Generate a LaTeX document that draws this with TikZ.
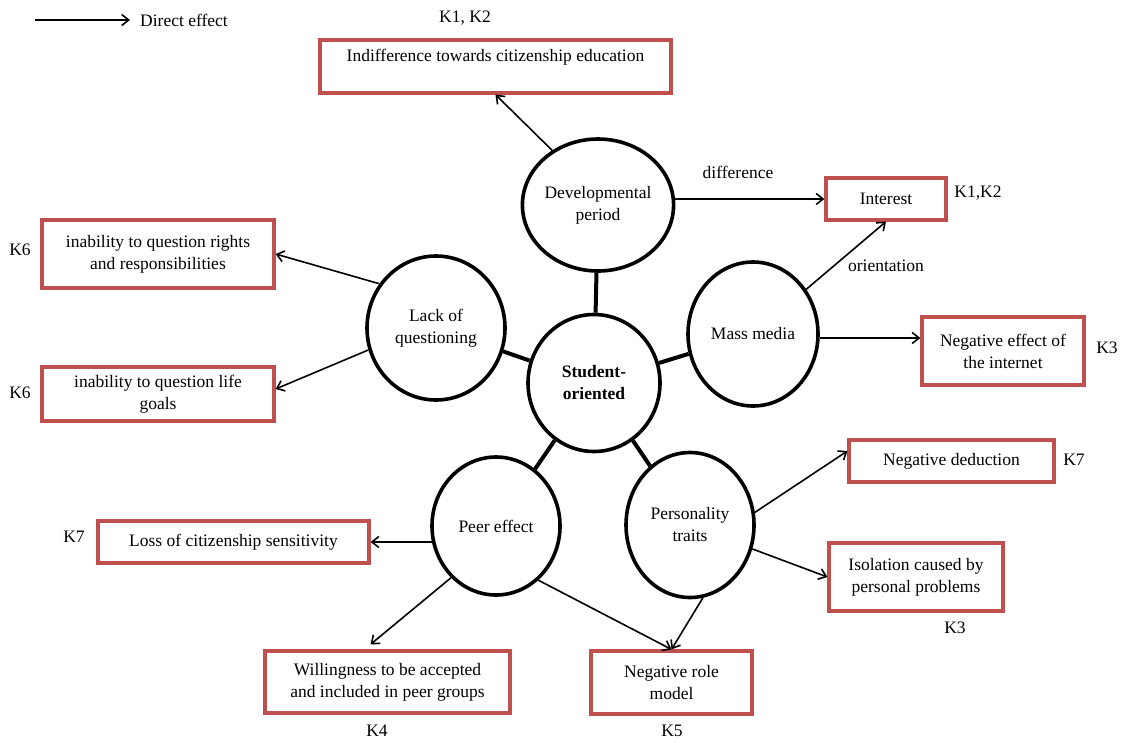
\documentclass[tikz,border=0pt]{standalone}
\usepackage{fontspec}
\setmainfont{Liberation Serif}
\usetikzlibrary{shapes.geometric,arrows.meta}
\definecolor{boxred}{HTML}{C0504D}
\begin{document}
\begin{tikzpicture}[x=1pt,y=-1pt]
\tikzstyle{every node}+=[inner sep=0pt, font=\fontsize{17.5}{22}\selectfont, align=center]
\tikzstyle{factor}=[draw, ellipse, line width=3.6pt]
\tikzstyle{result}=[draw=boxred, line width=3.2pt, rectangle]
\tikzstyle{spoke}=[line width=4pt]
\tikzstyle{effect}=[line width=1.6pt, -{Straight Barb[length=7pt,width=11pt]}]
\useasboundingbox (0,0) rectangle (1121,742);
\node [factor, minimum width=140, minimum height=132] (dev) at (598,205) {Developmental\\period};
\node [factor, minimum width=132, minimum height=137] (stud) at (594,383) {\bfseries Student-\\\bfseries oriented};
\node [factor, minimum width=130, minimum height=144] (mass) at (753,334) {Mass media};
\node [factor, minimum width=138, minimum height=144] (lack) at (436,328) {Lack of\\questioning};
\node [factor, minimum width=128, minimum height=138] (peer) at (496,526) {Peer effect};
\node [factor, minimum width=128, minimum height=145] (pers) at (690,525) {Personality\\traits};
\node [result, minimum width=351, minimum height=53] (indiff) at (495.5,66.5) {Indifference towards citizenship education\\\mbox{}};
\node [result, minimum width=120, minimum height=42] (interest) at (886,199) {Interest};
\node [result, minimum width=232, minimum height=68] (rights) at (158,254) {inability to question rights\\and responsibilities};
\node [result, minimum width=232, minimum height=54] (life) at (158,394) {inability to question life\\goals};
\node [result, minimum width=162, minimum height=68] (neteff) at (1003,351) {Negative effect of\\the internet};
\node [result, minimum width=205, minimum height=42] (deduct) at (951.5,461) {Negative deduction};
\node [result, minimum width=174, minimum height=68] (isol) at (916,577) {Isolation caused by\\personal problems};
\node [result, minimum width=271, minimum height=42] (loss) at (233.5,542) {Loss of citizenship sensitivity};
\node [result, minimum width=245, minimum height=62] (willing) at (387.5,682) {Willingness to be accepted\\and included in peer groups};
\node [result, minimum width=161, minimum height=63] (rolemod) at (671.5,682.5) {Negative role\\model};
\draw [spoke] (stud) -- (dev);
\draw [spoke] (stud) -- (mass);
\draw [spoke] (stud) -- (lack);
\draw [spoke] (stud) -- (peer);
\draw [spoke] (stud) -- (pers);
\draw [effect] (dev.130) -- (indiff.south);
\draw [effect] (dev.east |- interest.west) -- (interest.west);
\draw [effect] (mass.40) -- (interest.south);
\draw [effect] (mass.east |- 0,338) -- (neteff.west |- 0,338);
\draw [effect] (lack.142) -- (rights.east);
\draw [effect] (lack.198) -- ([yshift=5pt]life.east);
\draw [effect] (pers.11) -- ([yshift=10pt]deduct.west);
\draw [effect] (pers.-21) -- (isol.west);
\draw [effect] (pers.-80) -- (rolemod.north);
\draw [effect] (peer.194) -- (peer.194 -| loss.east);
\draw [effect] (peer.229) -- ([xshift=-17pt,yshift=5pt]willing.north);
\draw [effect] (peer.-52) -- (rolemod.north);
\node (lbldiff) at (738,172) {difference};
\node (lblorient) at (886,266) {orientation};
\node (kindiff) at (465,18) {K1, K2};
\node (kinterest) at (978,193) {K1,K2};
\node (krights) at (20,250) {K6};
\node (klife) at (20,393) {K6};
\node (kneteff) at (1107,348) {K3};
\node (kdeduct) at (1074,460) {K7};
\node (kisol) at (955,628) {K3};
\node (kloss) at (74,537) {K7};
\node (kwilling) at (377,731) {K4};
\node (krolemod) at (672,731) {K5};
\coordinate (lega) at (35,20);
\coordinate (legb) at (130,20);
\node [anchor=west] (legtxt) at (140,20) {Direct effect};
\draw [effect] (lega) -- (legb);
\end{tikzpicture}
\end{document}
